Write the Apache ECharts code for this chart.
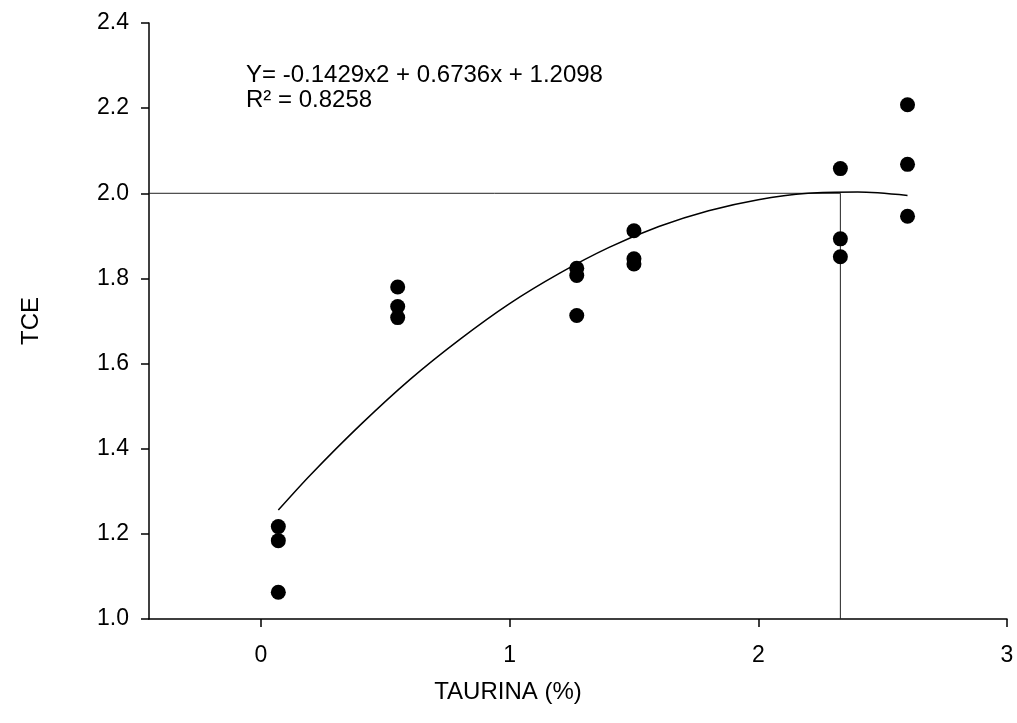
<!DOCTYPE html>
<html>
<head>
<meta charset="utf-8">
<script src="https://cdn.jsdelivr.net/npm/echarts@6/dist/echarts.min.js"></script>
<style>html,body{margin:0;padding:0;background:#fff}#c{width:1017px;height:723px}</style>
</head>
<body>
<div id="c"></div>
<script>
// Observed data points (TAURINA %, TCE)
const pointsX = [0.07, 0.07, 0.07, 0.55, 0.55, 0.55, 1.27, 1.27, 1.27, 1.50, 1.50, 1.50, 2.33, 2.33, 2.33, 2.60, 2.60, 2.60];
const pointsY = [1.217, 1.184, 1.063, 1.780, 1.734, 1.708, 1.824, 1.807, 1.713, 1.912, 1.846, 1.834, 2.058, 1.893, 1.851, 2.208, 2.068, 1.946];
// Fitted curve read along its path
const curveX = [0.07, 0.2, 0.4, 0.6, 0.8, 1.0, 1.2, 1.4, 1.6, 1.8, 2.0, 2.2, 2.4, 2.6];
const curveY = [1.256, 1.339, 1.456, 1.563, 1.657, 1.741, 1.812, 1.873, 1.922, 1.959, 1.985, 2.000, 2.003, 1.995];
// Reference lines (optimum)
const optX = 2.33;
const optY = 2.0;
const xTicks = [0, 1, 2, 3];
const yMin = 1.0, yMax = 2.4, yStep = 0.2;
const xMin = -0.45, xMax = 3;
const xTitle = 'TAURINA (%)';
const yTitle = 'TCE';
const eqText = 'Y= -0.1429x2 + 0.6736x + 1.2098';
const r2Text = 'R² = 0.8258';

const font = 'Liberation Sans, Arial, sans-serif';
const chart = echarts.init(document.getElementById('c'), null, {renderer: 'canvas'});
chart.setOption({
  animation: false,
  backgroundColor: '#fff',
  grid: {left: 149, right: 10, top: 23, bottom: 104, containLabel: false},
  xAxis: {
    type: 'value', min: xMin, max: xMax,
    axisLine: {show: true, onZero: false, lineStyle: {color: '#000', width: 1.5}},
    axisTick: {show: true, length: 8, lineStyle: {color: '#000', width: 1.5}, customValues: xTicks},
    axisLabel: {fontFamily: font, fontSize: 23, color: '#000', margin: 25, customValues: xTicks},
    splitLine: {show: false}
  },
  yAxis: {
    type: 'value', min: yMin, max: yMax, interval: yStep,
    name: yTitle, nameLocation: 'middle', nameGap: 106, nameRotate: 90,
    nameTextStyle: {fontFamily: font, fontSize: 24, color: '#000'},
    axisLine: {show: true, onZero: false, lineStyle: {color: '#000', width: 1.5}},
    axisTick: {show: true, length: 8, lineStyle: {color: '#000', width: 1.5}},
    axisLabel: {fontFamily: font, fontSize: 23, color: '#000', margin: 20, formatter: v => v.toFixed(1)},
    splitLine: {show: false}
  },
  graphic: [
    {type: 'text', left: 246, top: 63, style: {text: eqText, font: '24px ' + font, fill: '#000'}},
    {type: 'text', left: 246, top: 88, style: {text: r2Text, font: '24px ' + font, fill: '#000'}},
    {type: 'text', x: 508, y: 692, style: {text: xTitle, font: '24px ' + font, fill: '#000', align: 'center', verticalAlign: 'middle'}}
  ],
  series: [
    {
      type: 'line', data: [[xMin, optY], [optX, optY]], symbol: 'none',
      lineStyle: {color: '#222', width: 1}, silent: true, z: 1
    },
    {
      type: 'line', data: [[optX, yMin], [optX, optY]], symbol: 'none',
      lineStyle: {color: '#222', width: 1}, silent: true, z: 1
    },
    {
      type: 'line', data: curveX.map((x, i) => [x, curveY[i]]), symbol: 'none', smooth: 0.3,
      lineStyle: {color: '#000', width: 1.5}, silent: true, z: 2
    },
    {
      type: 'scatter', data: pointsX.map((x, i) => [x, pointsY[i]]), symbol: 'circle', symbolSize: 15,
      itemStyle: {color: '#000', opacity: 1}, z: 3
    }
  ]
});
</script>
</body>
</html>
